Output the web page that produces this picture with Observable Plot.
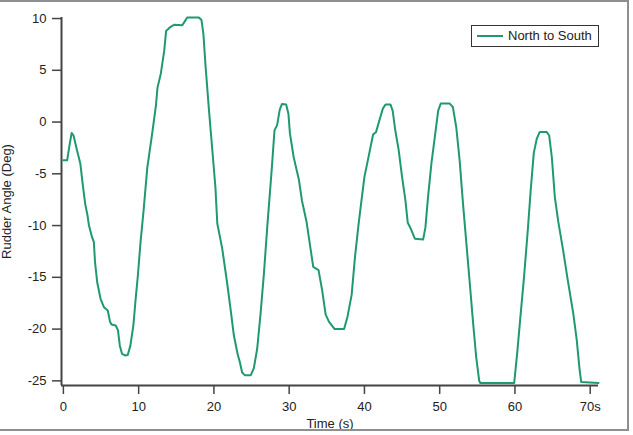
<!DOCTYPE html>
<html><head><meta charset="utf-8">
<script src="https://cdn.jsdelivr.net/npm/d3@7"></script>
<script src="https://cdn.jsdelivr.net/npm/@observablehq/plot@0.6"></script>
<style>
body{margin:0;background:#fff;}
#wrap{position:relative;width:633px;height:435px;overflow:hidden;font-family:"Liberation Sans",Arial,sans-serif;background:#fff;}
#wrap svg{position:absolute;left:0;top:0;}
#frame{position:absolute;left:-4px;top:0;width:633px;height:431px;border:2px solid #8f8f8f;box-sizing:border-box;pointer-events:none;}
#legend{position:absolute;left:471px;top:25px;width:128px;height:22px;border:1.5px solid #333;box-sizing:border-box;background:#fff;font-size:13px;color:#222;}
#legend .sw{position:absolute;left:5px;top:9px;width:26px;height:0;border-top:2px solid #1f9a6c;}
#legend .lb{position:absolute;left:36px;top:2px;white-space:nowrap;}
</style>
</head><body>
<div id="wrap"><div id="frame"></div></div>
<script>
const time = [0, 0.5, 0.8, 1.1, 1.35, 1.8, 2.25, 2.55, 2.9, 3.2,
 3.4, 3.8, 4.05, 4.2, 4.5, 4.95, 5.4, 5.9, 6.2, 6.4,
 6.95, 7.25, 7.5, 7.8, 8.2, 8.55, 8.9, 9.3, 9.6, 9.9,
 10.25, 10.65, 11.15, 11.8, 12.3, 12.5, 12.95, 13.4, 13.65, 14.25,
 14.7, 15.8, 16.15, 16.45, 18.0, 18.35, 18.6, 18.9, 19.35, 19.8,
 20.2, 20.45, 21.1, 21.75, 22.2, 22.65, 23.15, 23.45, 23.75, 24.1,
 24.9, 25.3, 25.75, 26.2, 26.65, 27.1, 27.7, 28.05, 28.4, 28.75,
 29.05, 29.6, 29.9, 30.1, 30.6, 31.3, 31.7, 32.3, 32.85, 33.2,
 33.9, 34.35, 34.85, 35.3, 36.05, 37.3, 37.75, 38.3, 38.75, 39.2,
 39.55, 40.0, 40.45, 40.9, 41.15, 41.55, 42.0, 42.45, 42.8, 43.45,
 43.75, 44.1, 44.55, 45.0, 45.45, 45.75, 46.15, 46.7, 47.8, 48.1,
 48.45, 48.9, 49.35, 49.8, 50.15, 51.3, 51.75, 52.2, 52.65, 53.1,
 53.55, 54.0, 54.45, 54.85, 55.25, 55.4, 59.9, 60.3, 60.75, 61.2,
 61.7, 62.1, 62.5, 62.9, 63.3, 64.2, 64.55, 64.9, 65.3, 65.75,
 66.4, 67.0, 67.75, 68.2, 68.6, 68.8, 71.1];
const rudderAngle = [-3.7, -3.7, -2.3, -1.05, -1.3, -2.7, -4.0, -5.9, -7.9, -9.0,
 -10.0, -11.1, -11.6, -13.5, -15.5, -17.1, -17.9, -18.2, -19.3, -19.55,
 -19.65, -20.1, -21.6, -22.4, -22.55, -22.5, -21.6, -19.65, -17.1, -14.8,
 -11.6, -8.6, -4.4, -1.1, 1.6, 3.3, 4.7, 6.9, 8.8, 9.2,
 9.4, 9.35, 9.75, 10.1, 10.1, 9.85, 8.55, 5.3, 1.1, -2.8,
 -6.3, -9.8, -12.2, -15.5, -18.0, -20.6, -22.4, -23.2, -24.2, -24.45,
 -24.45, -23.8, -21.9, -18.5, -14.6, -10.0, -4.4, -0.8, -0.3, 1.2,
 1.75, 1.7, 0.8, -1.1, -3.4, -5.6, -7.6, -9.6, -12.3, -14.0,
 -14.3, -16.1, -18.6, -19.3, -20.0, -20.0, -18.8, -16.7, -13.0, -10.0,
 -7.9, -5.3, -3.7, -2.1, -1.2, -0.95, 0.2, 1.3, 1.7, 1.7,
 1.1, -0.8, -2.7, -5.3, -7.6, -9.7, -10.3, -11.27, -11.35, -10.2,
 -7.25, -4.0, -1.45, 1.1, 1.8, 1.8, 1.45, -0.5, -3.7, -7.9,
 -11.75, -15.6, -19.5, -22.7, -25.0, -25.2, -25.2, -22.3, -18.6, -15.0,
 -10.5, -6.5, -3.0, -1.6, -0.95, -0.95, -1.3, -3.4, -7.25, -9.6,
 -12.4, -15.2, -18.5, -21.0, -24.0, -25.1, -25.2];
const xTicks = [0, 10, 20, 30, 40, 50, 60, 70];
const yTicks = [-25, -20, -15, -10, -5, 0, 5, 10];
const seriesName = "North to South";
const xTitle = "Time (s)";
const yTitle = "Rudder Angle (Deg)";
const xDomain = [-0.25, 71.1];
const yDomain = [-25.45, 10.1];
const lineColor = "#1f9a6c";

const data = time.map((t, i) => ({t, a: rudderAngle[i]}));
const axisColor = "#444";

const chart = Plot.plot({
  width: 633, height: 435,
  marginLeft: 61, marginRight: 35, marginTop: 17, marginBottom: 50,
  x: {domain: xDomain},
  y: {domain: yDomain},
  style: {fontFamily: "'Liberation Sans', Arial, sans-serif", fontSize: "13px", color: "#222", background: "transparent"},
  marks: [
    Plot.ruleX([xDomain[0]], {stroke: axisColor, strokeWidth: 2}),
    Plot.ruleY([yDomain[0]], {stroke: axisColor, strokeWidth: 2}),
    Plot.axisX(xTicks, {tickSize: 9, tickPadding: 7, stroke: axisColor, strokeWidth: 1.5,
      tickFormat: d => d === 70 ? "70s" : String(d),
      label: xTitle, labelAnchor: "center", labelOffset: 42, labelArrow: "none"}),
    Plot.axisY(yTicks, {tickSize: 9, tickPadding: 6, stroke: axisColor, strokeWidth: 1.5,
      tickFormat: d => String(d),
      label: yTitle, labelAnchor: "center", labelOffset: 60, labelArrow: "none"}),
    Plot.line(data, {x: "t", y: "a", stroke: lineColor, strokeWidth: 2})
  ]
});
const wrap = document.getElementById("wrap");
wrap.insertBefore(chart, wrap.firstChild);
const lg = document.createElement("div");
lg.id = "legend";
lg.innerHTML = '<span class="sw"></span><span class="lb"></span>';
lg.querySelector(".lb").textContent = seriesName;
wrap.appendChild(lg);
</script>
</body></html>
